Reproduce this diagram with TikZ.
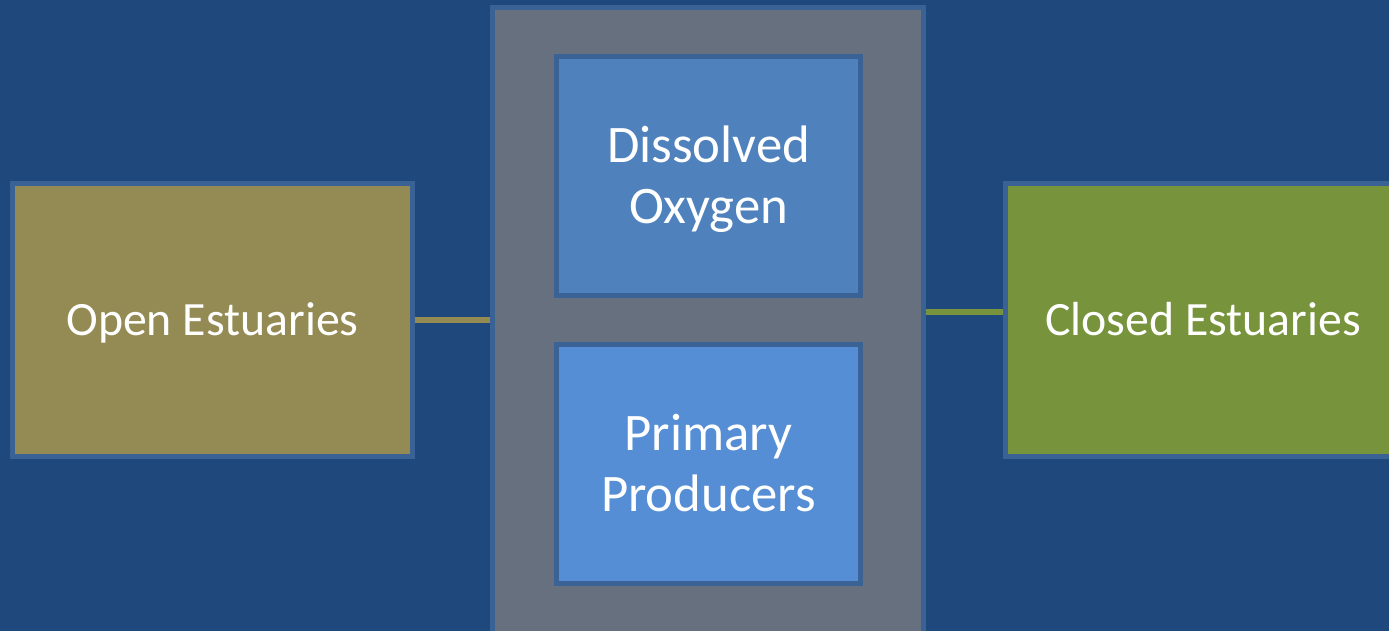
\documentclass[tikz,border=0pt]{standalone}
\usepackage{fontspec}
\setmainfont{Carlito}
\definecolor{bgblue}{RGB}{31,73,125}
\definecolor{edgeblue}{RGB}{58,98,148}
\definecolor{olivebox}{RGB}{148,138,84}
\definecolor{greenbox}{RGB}{119,147,60}
\definecolor{graybox}{RGB}{102,112,126}
\definecolor{oxyblue}{RGB}{79,129,189}
\definecolor{prodblue}{RGB}{85,142,213}
\tikzset{
    estbox/.style={draw=edgeblue, line width=1.4pt, text=white, align=center,
        font=\fontsize{15}{17.3}\selectfont, inner sep=0pt,
        text height=26.9pt, text depth=0pt},
    sidebox/.style={estbox, font=\fontsize{13.6}{16}\selectfont, text height=8.7pt},
    link/.style={line width=1.6pt}
}
\begin{document}
\begin{tikzpicture}[x=0.01cm, y=-0.01cm]
    \useasboundingbox (0,0) rectangle (1389,631);
    \clip (0,0) rectangle (1389,631);
    \fill[bgblue] (0,0) rectangle (1389,631);

    \node[estbox, fill=graybox, minimum width=4.3cm, minimum height=6.32cm] (middle) at (708,324) {};
    \node[estbox, fill=oxyblue, minimum width=3.03cm, minimum height=2.38cm] (oxygen) at (708.5,176) {Dissolved\\Oxygen};
    \node[estbox, fill=prodblue, minimum width=3.03cm, minimum height=2.38cm] (producers) at (708.5,464) {Primary\\Producers};

    \node[sidebox, fill=olivebox, minimum width=3.99cm, minimum height=2.72cm] (open) at (212.5,320) {Open Estuaries};
    \node[sidebox, fill=greenbox, minimum width=3.94cm, minimum height=2.72cm] (closed) at (1203,320) {Closed Estuaries};

    \draw[link, olivebox] (open.east) -- (open.east -| middle.west);
    \draw[link, greenbox] ([yshift=0.08cm]closed.west) -- ([yshift=0.08cm]closed.west -| middle.east);
\end{tikzpicture}
\end{document}
